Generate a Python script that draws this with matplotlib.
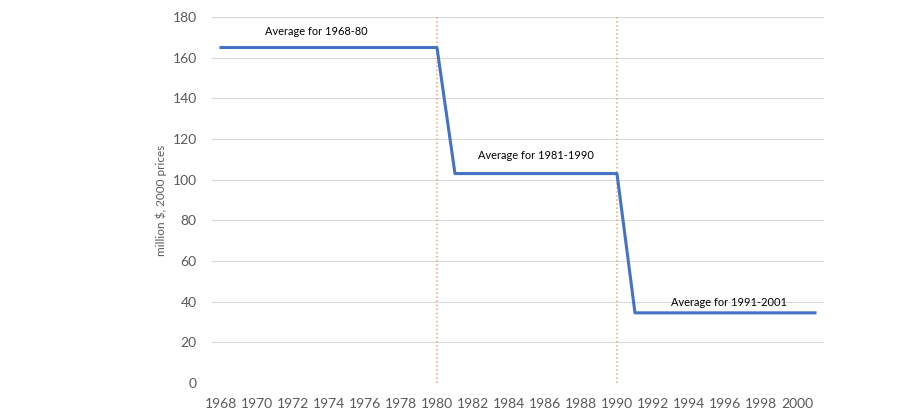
import matplotlib.pyplot as plt

plt.rcParams['font.family'] = ['Lato', 'DejaVu Sans']

# 数据
years = list(range(1968, 2002))
avg_1968_80 = 165
avg_1981_90 = 103
avg_1991_01 = 34.5
values = [avg_1968_80 if y <= 1980 else (avg_1981_90 if y <= 1990 else avg_1991_01) for y in years]
break_years = [1980, 1990]
labels = ['Average for 1968-80', 'Average for 1981-1990', 'Average for 1991-2001']
label_pos = [(1973.3, 173), (1985.5, 112), (1996.2, 39.5)]

fig = plt.figure(figsize=(8.97, 4.12), dpi=100)
ax = fig.add_axes([0.2363, 0.0704, 0.6823, 0.8883])

ax.plot(years, values, color='#4472C4', linewidth=2.2, zorder=3)
for by in break_years:
    ax.axvline(by, color='#F4A46A', linestyle=':', linewidth=1.1, zorder=2)

for txt, (x, y) in zip(labels, label_pos):
    ax.text(x, y, txt, ha='center', va='center', fontsize=7.9, color='#000000')

ax.set_xlim(1967.5, 2001.5)
ax.set_ylim(0, 180)
ax.set_yticks(range(0, 181, 20))
ax.set_xticks(years[::2])
ax.grid(axis='y', color='#D9D9D9', linewidth=0.8)
ax.set_axisbelow(True)
for s in ax.spines.values():
    s.set_visible(False)
ax.tick_params(axis='both', length=0, labelsize=10, colors='#595959')
ax.tick_params(axis='x', pad=11)
ax.tick_params(axis='y', pad=11)
ax.set_ylabel('million $, 2000 prices', fontsize=8.5, color='#595959', labelpad=4)

plt.savefig('out.png', dpi=100)
